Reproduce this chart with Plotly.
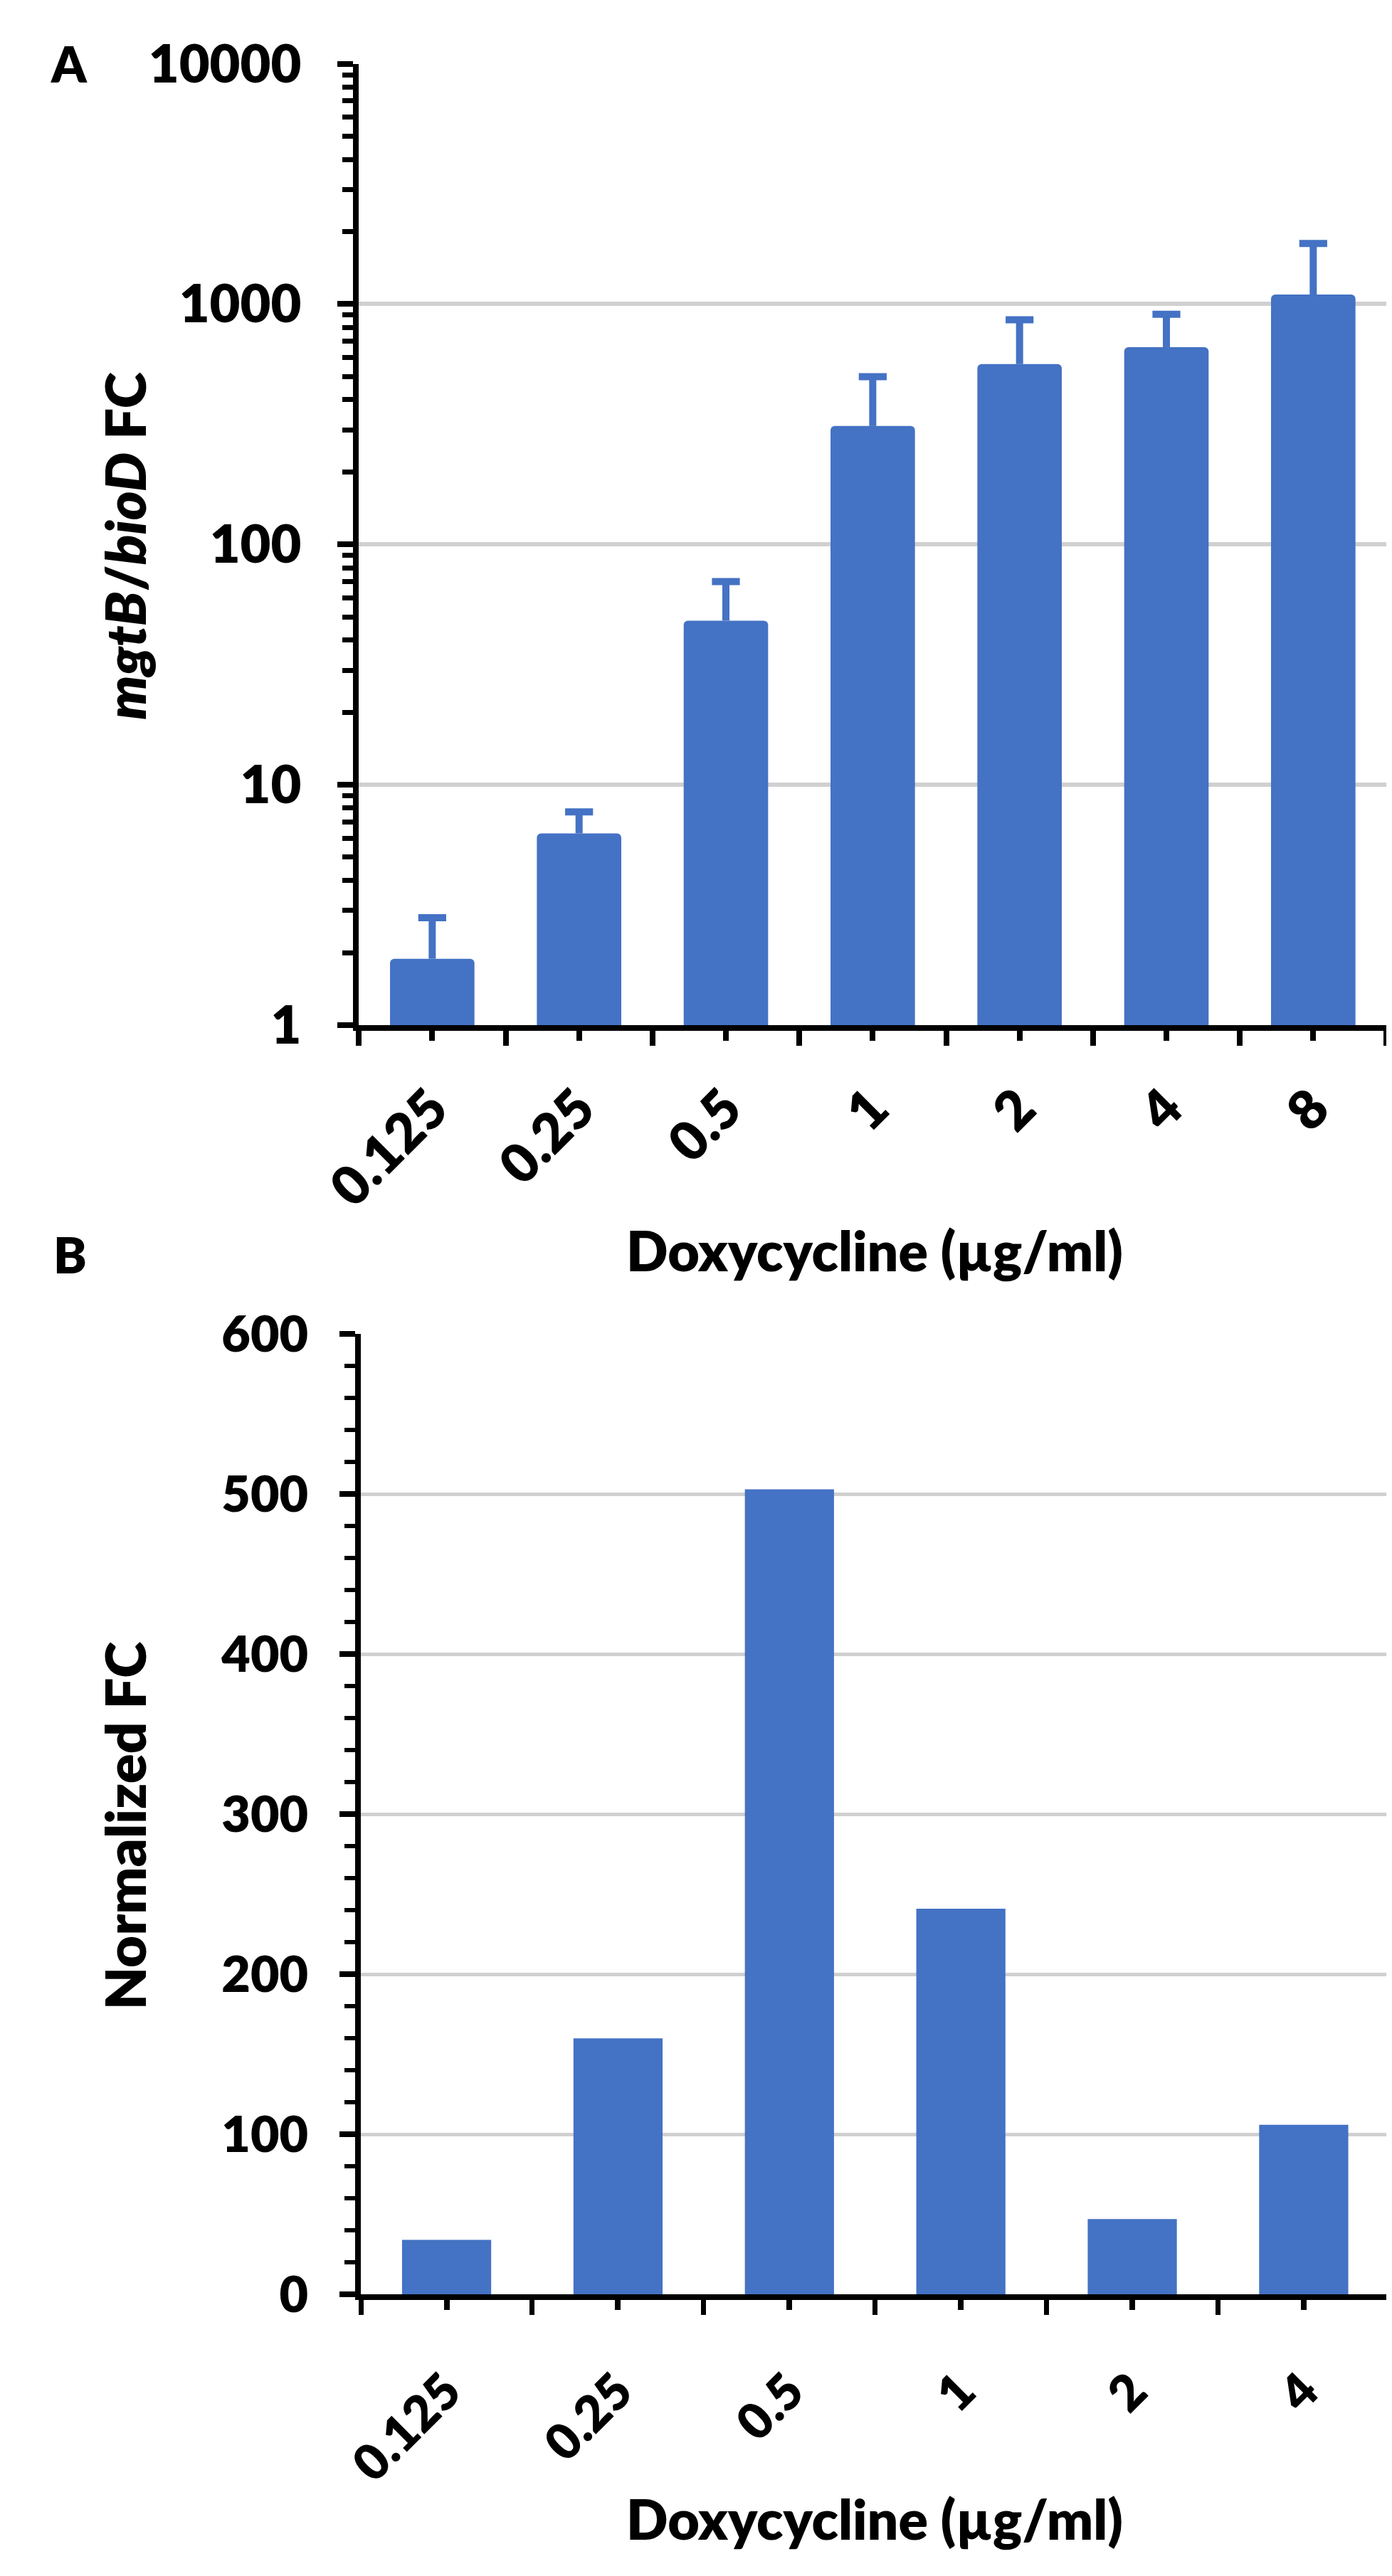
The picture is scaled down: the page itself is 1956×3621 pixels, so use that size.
import plotly.graph_objects as go

W, H = 1956, 3621

# panel A: mgtB/bioD fold change (log scale) with upper error bars
conc_a = ["0.125", "0.25", "0.5", "1", "2", "4", "8"]
fc_a = [1.89, 6.28, 48.2, 311, 563, 662, 1096]
err_a = [0.91, 1.43, 21.9, 188, 297, 245, 692]

# panel B: normalized FC
conc_b = ["0.125", "0.25", "0.5", "1", "2", "4"]
fc_b = [34, 160, 503, 241, 47, 106]

log_ticks = [1, 10, 100, 1000, 10000]
lin_ticks = [0, 100, 200, 300, 400, 500, 600]

BLUE = "#4472C4"
GRID = "#d0d0d0"
FONT = "Lato"
WT = 800


def px_x(p):
    return p / W


def px_y(p):
    return 1 - p / H


def tfont(size):
    return dict(family=FONT, size=size, weight=WT, color="black")


fig = go.Figure()

xa = list(range(len(conc_a)))
fig.add_trace(go.Bar(
    x=xa, y=fc_a, width=0.575,
    marker=dict(color=BLUE, line=dict(width=0), cornerradius=6),
    xaxis="x", yaxis="y", showlegend=False,
))

# upper-only error bars: stem from bar top to bar top + error, cap on top
stem_x, stem_y = [], []
for i, (v, e) in enumerate(zip(fc_a, err_a)):
    stem_x += [i, i, None]
    stem_y += [v, v + e, None]
fig.add_trace(go.Scatter(
    x=stem_x, y=stem_y, mode="lines", line=dict(color=BLUE, width=10),
    xaxis="x", yaxis="y", showlegend=False, hoverinfo="skip",
))
fig.add_trace(go.Scatter(
    x=xa, y=[v + e for v, e in zip(fc_a, err_a)], mode="markers",
    marker=dict(symbol="line-ew", size=28, line=dict(color=BLUE, width=10)),
    xaxis="x", yaxis="y", showlegend=False,
))

fig.add_trace(go.Bar(
    x=list(range(len(conc_b))), y=fc_b, width=0.52,
    marker=dict(color=BLUE, line=dict(width=0)),
    xaxis="x2", yaxis="y2", showlegend=False,
))

# minor ticks between categories and inside log decades
bounds_a = [i - 0.5 for i in range(len(conc_a) + 1)]
bounds_b = [i - 0.5 for i in range(len(conc_b) + 1)]
minor_log = [m * d for d in log_ticks[:-1] for m in range(2, 10)]

xcommon = dict(showline=True, linewidth=8, linecolor="black", ticks="outside",
               tickwidth=8, ticklen=14, tickcolor="black", tickangle=-45,
               showgrid=False, zeroline=False)

fig.update_layout(
    width=W, height=H,
    margin=dict(l=0, r=0, t=0, b=0),
    paper_bgcolor="white", plot_bgcolor="white",
    font=dict(family=FONT, color="black"),
    xaxis=dict(
        xcommon, domain=[px_x(450), px_x(1940)], anchor="y",
        range=[-0.5, len(conc_a) - 0.5],
        tickvals=xa, ticktext=conc_a, tickfont=tfont(76), ticklabelstandoff=20,
        minor=dict(tickvals=bounds_a, ticks="outside", ticklen=21,
                   tickwidth=8, tickcolor="black"),
    ),
    yaxis=dict(
        type="log", domain=[px_y(1421), px_y(35.5)], anchor="x",
        range=[0, 4], tickvals=log_ticks, ticktext=[str(v) for v in log_ticks],
        showline=True, linewidth=8, linecolor="black",
        ticks="outside", ticklen=22, tickwidth=8, tickcolor="black",
        ticklabelstandoff=36, tickfont=tfont(74),
        showgrid=True, gridcolor=GRID, gridwidth=6, zeroline=False,
        minor=dict(tickvals=minor_log, ticks="outside", ticklen=15,
                   tickwidth=7, tickcolor="black", showgrid=False),
    ),
    xaxis2=dict(
        xcommon, domain=[px_x(453), px_x(1944)], anchor="y2",
        range=[-0.5, len(conc_b) - 0.5],
        tickvals=list(range(len(conc_b))), ticktext=conc_b, tickfont=tfont(70),
        ticklabelstandoff=45,
        minor=dict(tickvals=bounds_b, ticks="outside", ticklen=21,
                   tickwidth=7, tickcolor="black"),
    ),
    yaxis2=dict(
        domain=[px_y(3250), px_y(1866)], anchor="x2",
        range=[0, 600], tickvals=lin_ticks,
        showline=True, linewidth=8, linecolor="black",
        ticks="outside", ticklen=22, tickwidth=8, tickcolor="black",
        ticklabelstandoff=30, tickfont=tfont(70),
        showgrid=True, gridcolor=GRID, gridwidth=5, zeroline=False,
        minor=dict(dtick=20, ticks="outside", ticklen=15,
                   tickwidth=6, tickcolor="black", showgrid=False),
    ),
)

notes = [
    ("A", 30, 35, 0, tfont(70)),
    ("B", 31, 1751, 0, tfont(70)),
    ("Doxycycline (µg/ml)", 1198, 1745, 0, tfont(77)),
    ("Doxycycline (µg/ml)", 1198, 3573, 0, tfont(77)),
    ("<i>mgtB</i>/<i>bioD</i> FC", 110, 730, -90, tfont(78)),
    ("Normalized FC", 110, 2575, -90, tfont(78)),
]
for text, x, y, ang, f in notes:
    fig.add_annotation(text=text, x=px_x(x), y=px_y(y), xref="paper", yref="paper",
                       xanchor="center", yanchor="middle", textangle=ang,
                       showarrow=False, font=f)

fig.write_html("out.html")
